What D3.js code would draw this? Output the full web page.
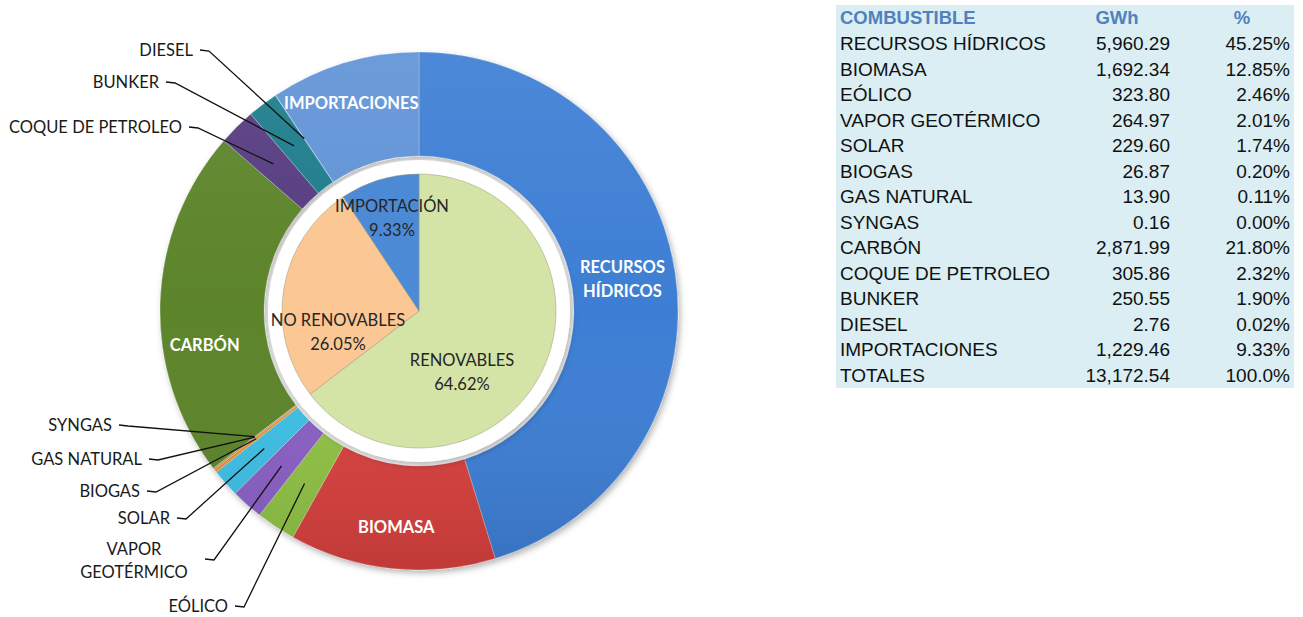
<!DOCTYPE html>
<html>
<head>
<meta charset="utf-8">
<script src="https://cdn.jsdelivr.net/npm/d3@7"></script>
<style>
  body { margin: 0; background: #fff; }
  svg { display: block; }
</style>
</head>
<body>
<div id="chart"></div>
<script>
// data
const fuels = ["RECURSOS HÍDRICOS", "BIOMASA", "EÓLICO", "VAPOR GEOTÉRMICO", "SOLAR", "BIOGAS",
  "GAS NATURAL", "SYNGAS", "CARBÓN", "COQUE DE PETROLEO", "BUNKER", "DIESEL", "IMPORTACIONES"];
const gwh = [5960.29, 1692.34, 323.80, 264.97, 229.60, 26.87, 13.90, 0.16, 2871.99, 305.86, 250.55, 2.76, 1229.46];
const pcts = [45.25, 12.85, 2.46, 2.01, 1.74, 0.20, 0.11, 0.00, 21.80, 2.32, 1.90, 0.02, 9.33];
const totalGwh = 13172.54;
const totalPct = 100.0;

const groups = ["RENOVABLES", "NO RENOVABLES", "IMPORTACIÓN"];
const groupPcts = [64.62, 26.05, 9.33];

const fuelColors = ["#3e7ed4", "#d6403e", "#8fc144", "#8a5ec4", "#3cbfe5", "#e8912f",
  "#b58a58", "#a0a0a0", "#5b8429", "#553b80", "#1d7b8b", "#4f9dd6", "#6193d6"];
const groupColors = ["#d3e4a6", "#fbc795", "#4d8ad6"];

// layout
const W = 1303, H = 617;
const cx = 419, cy = 311;
const R_OUT = 259, R_IN = 155, R_PIE = 137, R_HALO = 151, R_LEAD = 207;

const svg = d3.select("#chart").append("svg")
  .attr("width", W).attr("height", H)
  .style("font-family", "Lato, 'Open Sans', sans-serif");

const defs = svg.append("defs");
const shadow = defs.append("filter").attr("id", "shadow")
  .attr("x", "-20%").attr("y", "-20%").attr("width", "140%").attr("height", "140%");
shadow.append("feDropShadow").attr("dx", 2).attr("dy", 3).attr("stdDeviation", 3)
  .attr("flood-color", "#000").attr("flood-opacity", 0.3);

const shade = defs.append("linearGradient").attr("id", "shade")
  .attr("gradientUnits", "userSpaceOnUse")
  .attr("x1", 0).attr("y1", -R_OUT).attr("x2", 0).attr("y2", R_OUT);
shade.append("stop").attr("offset", "0%").attr("stop-color", "#fff").attr("stop-opacity", 0.08);
shade.append("stop").attr("offset", "50%").attr("stop-color", "#fff").attr("stop-opacity", 0);
shade.append("stop").attr("offset", "100%").attr("stop-color", "#000").attr("stop-opacity", 0.1);

const g = svg.append("g").attr("transform", `translate(${cx},${cy})`);

// outer ring
const pie = d3.pie().sort(null).value(d => d.v);
const ringData = pie(fuels.map((f, i) => ({ name: f, v: gwh[i], i })));
const arcRing = d3.arc().innerRadius(R_IN).outerRadius(R_OUT);

const ringG = g.append("g").attr("filter", "url(#shadow)");
ringG.selectAll("path.ring")
  .data(ringData)
  .join("path")
  .attr("class", "ring")
  .attr("d", arcRing)
  .attr("fill", d => fuelColors[d.data.i])
  .attr("stroke", "rgba(255,255,255,0.3)")
  .attr("stroke-width", 0.8);

g.append("path")
  .attr("d", d3.arc().innerRadius(R_IN).outerRadius(R_OUT).startAngle(0).endAngle(2 * Math.PI)())
  .attr("fill", "url(#shade)")
  .attr("pointer-events", "none");

// white halo round inner pie
g.append("circle").attr("r", R_HALO).attr("fill", "#fff").attr("filter", "url(#shadow)");

// inner pie
const innerData = pie(groups.map((gname, i) => ({ name: gname, v: groupPcts[i], i })));
const arcPie = d3.arc().innerRadius(0).outerRadius(R_PIE);
g.selectAll("path.inner")
  .data(innerData)
  .join("path")
  .attr("class", "inner")
  .attr("d", arcPie)
  .attr("fill", d => groupColors[d.data.i])
  .attr("stroke", "#9a9a7a")
  .attr("stroke-opacity", 0.5)
  .attr("stroke-width", 1);

// inner pie labels
const innerLabelPos = { "RENOVABLES": [43, 55], "NO RENOVABLES": [-81, 15], "IMPORTACIÓN": [-27, -99] };
g.selectAll("text.inner")
  .data(innerData)
  .join("text")
  .attr("class", "inner")
  .attr("text-anchor", "middle")
  .attr("font-size", 16.5)
  .attr("fill", "#262626")
  .each(function (d) {
    const p = innerLabelPos[d.data.name];
    const t = d3.select(this);
    t.append("tspan").attr("x", p[0]).attr("y", p[1]).text(d.data.name);
    t.append("tspan").attr("x", p[0]).attr("y", p[1] + 24).text(groupPcts[d.data.i].toFixed(2) + "%");
  });

// big ring labels (white, bold)
const ringLabel = {
  "RECURSOS HÍDRICOS": { r: 206, a: 81, lines: ["RECURSOS", "HÍDRICOS"] },
  "BIOMASA": { r: 217, a: 186, lines: ["BIOMASA"] },
  "CARBÓN": { r: 217, a: 261, lines: ["CARBÓN"] },
  "IMPORTACIONES": { r: 219, a: 342, lines: ["IMPORTACIONES"] }
};
Object.entries(ringLabel).forEach(([name, o]) => {
  const rad = o.a * Math.PI / 180;
  const x = o.r * Math.sin(rad), y = -o.r * Math.cos(rad);
  const t = g.append("text")
    .attr("text-anchor", "middle")
    .attr("font-size", 16.5)
    .attr("font-weight", "bold")
    .attr("fill", "#fff");
  o.lines.forEach((ln, k) => {
    t.append("tspan").attr("x", x)
      .attr("y", y + 6 + (k - (o.lines.length - 1) / 2) * 24)
      .text(ln);
  });
});

// leader labels for small slices (text anchor points, page coords)
const leaderText = {
  "DIESEL": { x: 193, y: 50, anchor: "end" },
  "BUNKER": { x: 159, y: 82, anchor: "end" },
  "COQUE DE PETROLEO": { x: 182, y: 127, anchor: "end" },
  "SYNGAS": { x: 112, y: 425, anchor: "end" },
  "GAS NATURAL": { x: 142, y: 459, anchor: "end" },
  "BIOGAS": { x: 140, y: 491, anchor: "end" },
  "SOLAR": { x: 170, y: 518, anchor: "end" },
  "VAPOR GEOTÉRMICO": { x: 134, y: 549, anchor: "middle", lines: ["VAPOR", "GEOTÉRMICO"], lineX: 205, lineY: 559 },
  "EÓLICO": { x: 228, y: 606, anchor: "end" }
};
const arcLead = d3.arc().innerRadius(R_LEAD).outerRadius(R_LEAD);
const lead = svg.append("g");
ringData.filter(d => leaderText[d.data.name]).forEach(d => {
  const o = leaderText[d.data.name];
  const lines = o.lines || [d.data.name];
  const t = lead.append("text")
    .attr("text-anchor", o.anchor)
    .attr("font-size", 16.5)
    .attr("fill", "#1a1a1a");
  lines.forEach((ln, k) => {
    t.append("tspan").attr("x", o.x).attr("y", o.y + 6 + k * 23).text(ln);
  });
  const x0 = o.lineX || o.x + 7;
  const y0 = o.lineY || o.y;
  const [ex, ey] = arcLead.centroid(d);
  lead.append("path")
    .attr("d", `M${x0},${y0} L${x0 + 9},${y0 + 1} L${cx + ex},${cy + ey}`)
    .attr("fill", "none")
    .attr("stroke", "#111")
    .attr("stroke-width", 1.3);
});

// table
const tb = svg.append("g").style("font-family", "Arial, 'Liberation Sans', sans-serif");
const tX = 836, tY = 5, tW = 458, rowH = 25.5;
const rows = fuels.map((f, i) => ({ name: f, gwh: gwh[i], pct: pcts[i] }));
rows.push({ name: "TOTALES", gwh: totalGwh, pct: totalPct, total: true });
tb.append("rect")
  .attr("x", tX).attr("y", tY)
  .attr("width", tW).attr("height", 26 + rows.length * rowH)
  .attr("fill", "#daeef3");

const head = tb.append("g").attr("fill", "#4f81bd").attr("font-weight", "bold").attr("font-size", 18.5);
head.append("text").attr("x", 840).attr("y", 24).text("COMBUSTIBLE");
head.append("text").attr("x", 1117).attr("y", 24).attr("text-anchor", "middle").text("GWh");
head.append("text").attr("x", 1242).attr("y", 24).attr("text-anchor", "middle").text("%");

const fmt = d3.format(",.2f");
const rowG = tb.selectAll("g.row")
  .data(rows)
  .join("g")
  .attr("class", "row")
  .attr("font-size", 19)
  .attr("fill", "#111")
  .attr("transform", (d, i) => `translate(0,${50.3 + i * rowH})`);
rowG.append("text").attr("x", 840).text(d => d.name);
rowG.append("text").attr("x", 1170).attr("text-anchor", "end").text(d => fmt(d.gwh));
rowG.append("text").attr("x", 1290).attr("text-anchor", "end")
  .text(d => d.total ? d.pct.toFixed(1) + "%" : d.pct.toFixed(2) + "%");
</script>
</body>
</html>
